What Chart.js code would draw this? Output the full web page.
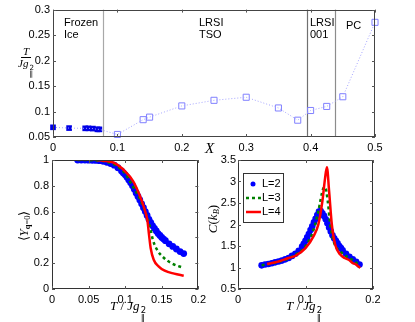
<!DOCTYPE html>
<html>
<head>
<meta charset="utf-8">
<script src="https://cdn.jsdelivr.net/npm/chart.js@4.4.0/dist/chart.umd.min.js"></script>
<style>
body { margin: 0; background: #fff; }
#fig { position: relative; width: 415px; height: 322px; overflow: hidden; font-family: "Liberation Sans", Arial, sans-serif; }
canvas { position: absolute; }
.t { position: absolute; font-size: 11px; line-height: 12px; color: #000; white-space: nowrap; }
.m { font-family: "Liberation Serif", "DejaVu Serif", serif; font-style: italic; }
.lab { position: absolute; white-space: nowrap; font-family: "Liberation Serif", serif; color: #000; }
.ss { display: inline-flex; flex-direction: column; font-size: 0.65em; line-height: 0.85em; vertical-align: -0.4em; margin-left: 1px; font-style: normal; font-family: "DejaVu Sans", sans-serif; }
.rot { transform: translate(-50%, -50%) rotate(-90deg); }
.ctr { transform: translate(-50%, -50%); }
.frac { display: inline-flex; flex-direction: column; align-items: center; font-size: 11px; line-height: 11px; }
.frac .num { border-bottom: 1px solid #000; padding: 0 2px; }
</style>
</head>
<body>
<div id="fig">
  <canvas id="top" width="415" height="160" style="left:0;top:0"></canvas>
  <canvas id="yq" width="210" height="172" style="left:0;top:150px"></canvas>
  <canvas id="heat" width="205" height="172" style="left:210px;top:150px"></canvas>

  <div class="t" style="left:64px;top:16px">Frozen</div>
  <div class="t" style="left:64px;top:28px">Ice</div>
  <div class="t" style="left:199px;top:16px">LRSI</div>
  <div class="t" style="left:199px;top:28px">TSO</div>
  <div class="t" style="left:310px;top:16px">LRSI</div>
  <div class="t" style="left:310px;top:28px">001</div>
  <div class="t" style="left:346px;top:19px">PC</div>

  <div class="lab m" style="left:205px;top:140px;font-size:15px">X</div>
  <div class="lab ctr" style="left:26px;top:59px">
    <div class="frac"><span class="num m">T</span><span class="m">Jg<span class="ss"><span>2</span><span>‖</span></span></span></div>
  </div>

  <div class="lab ctr" style="left:128px;top:310px;font-size:13px"><span class="m">T</span> / <span class="m">Jg</span><span class="ss"><span>2</span><span>‖</span></span></div>
  <div class="lab ctr" style="left:304px;top:310px;font-size:13px"><span class="m">T</span> / <span class="m">Jg</span><span class="ss"><span>2</span><span>‖</span></span></div>
  <div class="lab rot" style="left:24px;top:226px;font-size:13px">⟨<span class="m">Y</span><span style="font-size:0.65em;vertical-align:-0.3em"><b>q</b>=0</span>⟩</div>
  <div class="lab rot" style="left:213px;top:219px;font-size:13px"><span class="m">C</span>(<span class="m">k</span><span class="m" style="font-size:0.65em;vertical-align:-0.3em">B</span>)</div>
</div>

<script>
// top panel: transition temperature vs X
const frozenX = [0, 0.025, 0.05, 0.055, 0.062, 0.069, 0.072];
const frozenY = [0.069, 0.0675, 0.067, 0.067, 0.0665, 0.065, 0.065];
const openX = [0.1, 0.14, 0.15, 0.2, 0.25, 0.3, 0.35, 0.38, 0.4, 0.425, 0.45, 0.5];
const openY = [0.055, 0.084, 0.089, 0.111, 0.122, 0.128, 0.107, 0.083, 0.102, 0.110, 0.129, 0.275];
const phaseX = [0.0775, 0.394, 0.438];
const phaseColors = ['#a8a8a8', '#707070', '#8c8c8c'];

// L=2 runs are sampled on the same temperatures in both lower panels
const tL2 = [0.035, 0.04, 0.045, 0.05, 0.055, 0.06, 0.065, 0.07, 0.075, 0.08, 0.085, 0.09,
    0.095, 0.0975, 0.1, 0.1025, 0.105, 0.1075, 0.11, 0.1125, 0.115, 0.1175, 0.12, 0.1225, 0.125,
    0.1275, 0.13, 0.1325, 0.135, 0.1375, 0.14, 0.1425, 0.145, 0.1475, 0.15, 0.1525, 0.155,
    0.16, 0.165, 0.17, 0.175, 0.18];
const yL2 = [1, 1, 1, 0.999, 0.998, 0.997, 0.995, 0.99, 0.982, 0.972, 0.96, 0.94,
    0.915, 0.9, 0.885, 0.866, 0.845, 0.823, 0.8, 0.773, 0.745, 0.718, 0.69, 0.66, 0.63,
    0.6, 0.57, 0.54, 0.515, 0.49, 0.47, 0.45, 0.43, 0.415, 0.4, 0.387, 0.375,
    0.35, 0.33, 0.31, 0.29, 0.275];
const cL2 = [1.05, 1.07, 1.08, 1.1, 1.12, 1.14, 1.16, 1.19, 1.22, 1.27, 1.32, 1.39,
    1.49, 1.55, 1.62, 1.7, 1.78, 1.87, 1.96, 2.05, 2.13, 2.22, 2.3, 2.31, 2.26,
    2.2, 2.12, 2.03, 1.93, 1.84, 1.75, 1.68, 1.62, 1.56, 1.5, 1.45, 1.4,
    1.32, 1.25, 1.19, 1.13, 1.07];

// bottom left: <Y_q=0> vs T
const tL3y = [0.035, 0.06, 0.085, 0.1, 0.11, 0.12, 0.128, 0.1348, 0.1378, 0.1435, 0.152, 0.163, 0.18];
const yL3 = [1, 0.997, 0.965, 0.895, 0.8, 0.7, 0.59, 0.46, 0.382, 0.305, 0.246, 0.2, 0.163];
const tL4y = [0.061, 0.07, 0.085, 0.1, 0.111, 0.1195, 0.126, 0.1305, 0.1326, 0.1348, 0.139, 0.1456, 0.154, 0.167, 0.18];
const yL4 = [1, 0.995, 0.977, 0.912, 0.835, 0.731, 0.628, 0.525, 0.42, 0.318, 0.227, 0.176, 0.142, 0.119, 0.103];

// bottom right: C vs T
const tL3c = [0.035, 0.06, 0.08, 0.1, 0.112, 0.119, 0.1267, 0.129, 0.133, 0.1366, 0.1416, 0.154, 0.169, 0.181];
const cL3 = [1.05, 1.13, 1.25, 1.5, 1.88, 2.31, 2.85, 2.87, 2.54, 2.0, 1.61, 1.34, 1.18, 1.05];
const tL4c = [0.043, 0.06, 0.075, 0.085, 0.1, 0.112, 0.119, 0.125, 0.129, 0.1317, 0.135, 0.139, 0.144,
    0.1515, 0.158, 0.164, 0.17, 0.174, 0.178, 0.181];
const cL4 = [1.08, 1.14, 1.22, 1.27, 1.45, 1.73, 2.0, 2.54, 3.08, 3.33, 2.77, 2.0, 1.53,
    1.3, 1.22, 1.18, 1.1, 1.08, 1.03, 0.99];

const pts = (xs, ys) => xs.map((x, i) => ({ x: x, y: ys[i] }));
const tickFont = { family: '"Liberation Sans", Arial, sans-serif', size: 11 };
const fmt = (v) => String(+v.toFixed(3));

// box round the plot area plus small inward ticks on all four sides
const framePlugin = {
    id: 'frame',
    afterDraw(chart, args, opts) {
        const { ctx, chartArea: a, scales } = chart;
        ctx.save();
        ctx.strokeStyle = opts.color || '#333';
        ctx.lineWidth = 1;
        ctx.strokeRect(Math.round(a.left) + 0.5, Math.round(a.top) + 0.5,
            Math.round(a.right - a.left) - 1, Math.round(a.bottom - a.top) - 1);
        ctx.strokeStyle = '#555';
        ctx.beginPath();
        scales.x.ticks.forEach((t) => {
            const px = Math.round(scales.x.getPixelForValue(t.value)) + 0.5;
            ctx.moveTo(px, a.bottom); ctx.lineTo(px, a.bottom - 3);
            ctx.moveTo(px, a.top); ctx.lineTo(px, a.top + 3);
        });
        scales.y.ticks.forEach((t) => {
            const py = Math.round(scales.y.getPixelForValue(t.value)) + 0.5;
            ctx.moveTo(a.left, py); ctx.lineTo(a.left + 3, py);
            ctx.moveTo(a.right, py); ctx.lineTo(a.right - 3, py);
        });
        ctx.stroke();
        ctx.restore();
    }
};

const phasePlugin = {
    id: 'phases',
    beforeDatasetsDraw(chart) {
        const { ctx, chartArea: a, scales } = chart;
        ctx.save();
        ctx.lineWidth = 1.2;
        phaseX.forEach((x, i) => {
            const px = Math.round(scales.x.getPixelForValue(x)) + 0.5;
            ctx.strokeStyle = phaseColors[i];
            ctx.beginPath();
            ctx.moveTo(px, a.top);
            ctx.lineTo(px, a.bottom);
            ctx.stroke();
        });
        ctx.restore();
    }
};

const boxLegend = {
    id: 'boxLegend',
    afterDraw(chart) {
        const { ctx, chartArea: a } = chart;
        const x0 = a.left + 5, y0 = a.top + 13;
        ctx.save();
        ctx.fillStyle = '#fff';
        ctx.fillRect(x0, y0, 40, 49);
        ctx.strokeStyle = '#333';
        ctx.lineWidth = 1;
        ctx.strokeRect(x0 + 0.5, y0 + 0.5, 40, 49);
        ctx.font = '11px "Liberation Sans", Arial, sans-serif';
        ctx.textBaseline = 'middle';
        chart.data.datasets.forEach((ds, i) => {
            const y = y0 + 11 + i * 14;
            if (ds.showLine === false) {
                ctx.fillStyle = ds.backgroundColor;
                ctx.beginPath();
                ctx.arc(x0 + 10, y, 2.5, 0, Math.PI * 2);
                ctx.fill();
            } else {
                ctx.strokeStyle = ds.borderColor;
                ctx.lineWidth = ds.borderWidth;
                ctx.setLineDash(ds.borderDash || []);
                ctx.beginPath();
                ctx.moveTo(x0 + 3, y);
                ctx.lineTo(x0 + 18, y);
                ctx.stroke();
                ctx.setLineDash([]);
            }
            ctx.fillStyle = '#000';
            ctx.fillText(ds.label, x0 + 19, y);
        });
        ctx.restore();
    }
};

function axis(min, max, step, size, pad, horizontal) {
    return {
        type: 'linear',
        min: min,
        max: max,
        ticks: { stepSize: step, font: tickFont, color: '#000', padding: pad, callback: fmt, maxRotation: 0, autoSkip: false },
        grid: { display: false, drawTicks: false },
        border: { display: false },
        afterFit(s) {
            if (horizontal) s.height = size; else s.width = size;
        }
    };
}

function makeChart(id, datasets, xs, ys, pad, plugins, frameColor) {
    return new Chart(document.getElementById(id), {
        type: 'line',
        data: { datasets: datasets },
        options: {
            responsive: false,
            animation: false,
            devicePixelRatio: 1,
            layout: { padding: pad },
            scales: { x: xs, y: ys },
            plugins: { legend: { display: false }, tooltip: { enabled: false }, frame: { color: frameColor } }
        },
        plugins: [framePlugin].concat(plugins)
    });
}

makeChart('top', [
    {
        data: pts(frozenX.concat(openX), frozenY.concat(openY)),
        borderColor: '#a4a4ff', borderWidth: 1, borderDash: [1, 2], pointRadius: 0, clip: false
    },
    {
        data: pts(frozenX, frozenY), showLine: false, pointStyle: 'rect', pointRadius: 4,
        backgroundColor: '#0000e6', borderColor: '#0000e6', borderWidth: 0, clip: false
    },
    {
        data: pts(openX, openY), showLine: false, pointStyle: 'rect', pointRadius: 4.3,
        backgroundColor: 'rgba(0,0,0,0)', borderColor: '#8080ff', borderWidth: 1, clip: false
    }
], axis(0, 0.5, 0.1, 23, 4, true), axis(0.05, 0.3, 0.05, 53, 3, false),
    { top: 8, right: 40, left: 0, bottom: 0 }, [phasePlugin], '#444');

makeChart('yq', [
    {
        data: pts(tL4y, yL4), borderColor: '#ff0000', borderWidth: 2.5, pointRadius: 0,
        cubicInterpolationMode: 'monotone', order: 1
    },
    {
        data: pts(tL3y, yL3), borderColor: '#008000', borderWidth: 2.5, borderDash: [3, 3], pointRadius: 0,
        cubicInterpolationMode: 'monotone', order: 2
    },
    {
        data: pts(tL2, yL2), showLine: false, pointRadius: 3.4, pointStyle: 'circle',
        backgroundColor: '#0000ff', borderWidth: 0, order: 3
    }
], axis(0, 0.2, 0.05, 33, 4, true), axis(0, 1, 0.2, 52, 3, false),
    { top: 10, right: 5, left: 0, bottom: 0 }, [], '#333');

makeChart('heat', [
    {
        label: 'L=2', data: pts(tL2, cL2), showLine: false, pointRadius: 3.3, pointStyle: 'circle',
        backgroundColor: '#0000ff', borderWidth: 0, order: 3
    },
    {
        label: 'L=3', data: pts(tL3c, cL3), borderColor: '#008000', borderWidth: 2.5, borderDash: [3, 3],
        pointRadius: 0, cubicInterpolationMode: 'monotone', order: 2
    },
    {
        label: 'L=4', data: pts(tL4c, cL4), borderColor: '#ff0000', borderWidth: 2.5, pointRadius: 0,
        cubicInterpolationMode: 'monotone', order: 1
    }
], axis(0, 0.2, 0.1, 33, 4, true), axis(0.5, 3.5, 0.5, 28, 2, false),
    { top: 10, right: 42, left: 0, bottom: 0 }, [boxLegend], '#333');
</script>
</body>
</html>
